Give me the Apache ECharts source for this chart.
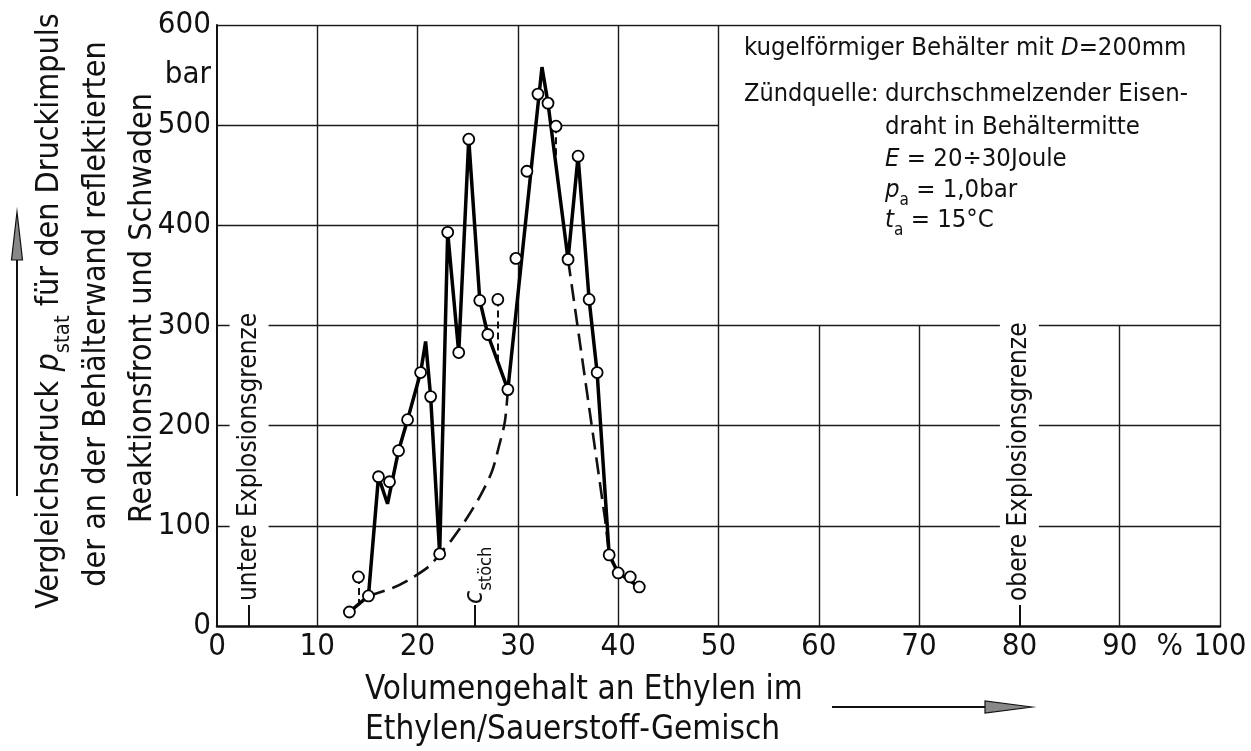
<!DOCTYPE html>
<html>
<head>
<meta charset="utf-8">
<script src="https://cdn.jsdelivr.net/npm/echarts@6/dist/echarts.min.js"></script>
<style>
  html, body { margin: 0; padding: 0; background: #fff; }
  #main { width: 1251px; height: 751px; }
</style>
</head>
<body>
<div id="main"></div>
<script>
const FONT = "'DejaVu Sans Condensed', 'DejaVu Sans', sans-serif"
const INK = '#111'

// Messpunkte (offene Kreise): [Vol-% Ethylen, bar]
const markers = [
  [13.2, 14], [14.1, 49], [15.1, 30], [16.1, 149], [17.2, 144], [18.1, 175],
  [19.0, 206], [20.3, 253], [21.3, 229], [22.2, 72], [23.0, 393], [24.1, 273],
  [25.1, 486], [26.2, 325], [27.0, 291], [28.0, 326], [29.0, 236], [29.8, 367],
  [30.9, 454], [32.0, 531], [33.0, 522], [33.8, 499], [35.0, 366], [36.0, 469],
  [37.1, 326], [37.9, 253], [39.1, 71], [40.0, 53], [41.2, 49], [42.1, 39]
]

// durchgezogene Kurve
const solidLine = [
  [13.2, 14], [15.1, 30], [16.1, 149], [17.0, 122], [18.1, 175], [19.0, 206],
  [20.3, 253], [20.8, 284], [21.3, 229], [22.2, 72], [23.0, 393], [24.1, 273],
  [25.1, 486], [26.2, 325], [27.0, 291], [29.0, 236], [32.4, 558], [33.0, 522],
  [35.0, 366], [36.0, 469], [37.1, 326], [37.9, 253], [39.1, 71], [40.0, 53],
  [42.1, 39]
]

// gestrichelte Kurven
const dashedLow = [
  [15.1, 30], [17.5, 38], [19.1, 46], [21.2, 60], [22.2, 72], [23.4, 86],
  [25.0, 109], [26.3, 131], [27.4, 154], [28.1, 179], [28.7, 204], [29.0, 236]
]
const dashedHigh = [[35.0, 366], [38.7, 106], [39.1, 71]]
const connectors = [
  [[14.1, 49], [14.1, 22]],
  [[28.0, 326], [28.0, 265]],
  [[33.8, 499], [33.8, 460]]
]

// Gitter: senkrecht [x, y0, y1], waagrecht [y, x0, x1]
const gridV = [[10, 0, 600], [20, 0, 600], [30, 0, 600], [40, 0, 600], [50, 0, 600],
  [60, 0, 300], [70, 0, 300], [90, 0, 300], [100, 0, 600]]
const gridH = [[100, 0, 100], [200, 0, 100], [300, 0, 100], [400, 0, 50], [500, 0, 50], [600, 0, 100]]

// Markierungen an der x-Achse
const limits = [
  { x: 3.2, text: 'untere Explosionsgrenze' },
  { x: 80, text: 'obere Explosionsgrenze' }
]
const cStoech = 25.7
const markTick = 21

const xUnit = '%'
const xUnitPos = 95
const yUnit = 'bar'
const yUnitPos = 550

const gridSegs = []
gridV.forEach(([x, a, b]) => gridSegs.push({ coords: [[x, a], [x, b]] }))
gridH.forEach(([y, a, b]) => gridSegs.push({ coords: [[a, y], [b, y]] }))
const tickSegs = limits.map(l => ({ coords: [[l.x, 0], [l.x, markTick]] }))
tickSegs.push({ coords: [[cStoech, 0], [cStoech, markTick]] })

const chart = echarts.init(document.getElementById('main'))

const option = {
  animation: false,
  backgroundColor: '#fff',
  grid: { left: 217, right: 31, top: 25, bottom: 125 },
  xAxis: {
    type: 'value', min: 0, max: 100, interval: 5,
    axisLine: { show: true, lineStyle: { color: INK, width: 2.5 } },
    axisTick: { show: false },
    splitLine: { show: false },
    axisLabel: {
      margin: 5, fontSize: 31, color: INK, fontFamily: FONT,
      formatter: v => v === xUnitPos ? xUnit : (v % 10 === 0 ? String(v) : '')
    }
  },
  yAxis: {
    type: 'value', min: 0, max: 600, interval: 50,
    axisLine: { show: true, lineStyle: { color: INK, width: 2 } },
    axisTick: { show: false },
    splitLine: { show: false },
    axisLabel: {
      margin: 6, fontSize: 31, color: INK, fontFamily: FONT,
      formatter: v => v === yUnitPos ? yUnit : (v % 100 === 0 ? String(v) : '')
    }
  },
  series: [
    {
      type: 'lines', coordinateSystem: 'cartesian2d', silent: true, z: 1,
      lineStyle: { color: '#1a1a1a', width: 1.4, opacity: 1 },
      data: gridSegs
    },
    {
      type: 'lines', coordinateSystem: 'cartesian2d', silent: true, z: 2,
      lineStyle: { color: INK, width: 2, opacity: 1 },
      data: tickSegs
    },
    {
      type: 'line', data: dashedLow, showSymbol: false, smooth: 0.3, z: 3,
      lineStyle: { color: INK, width: 2.6, type: [17, 8] }
    },
    {
      type: 'line', data: dashedHigh, showSymbol: false, z: 3,
      lineStyle: { color: INK, width: 2.6, type: [17, 8] }
    },
    {
      type: 'lines', coordinateSystem: 'cartesian2d', silent: true, z: 3,
      lineStyle: { color: INK, width: 2, type: [7, 4], opacity: 1 },
      data: connectors.map(c => ({ coords: c }))
    },
    {
      type: 'line', data: solidLine, showSymbol: false, z: 4,
      lineStyle: { color: '#000', width: 3.5 }
    },
    {
      type: 'scatter', data: markers, symbol: 'circle', symbolSize: 11, z: 5,
      itemStyle: { color: '#fff', borderColor: '#000', borderWidth: 1.8, opacity: 1 }
    }
  ]
}
chart.setOption(option)

// Texte
const rich = size => ({
  n: { fontSize: size, fontFamily: FONT, lineHeight: size * 1.5, fill: INK },
  i: { fontSize: size, fontFamily: FONT, fontStyle: 'italic', lineHeight: size * 1.5, fill: INK },
  s: { fontSize: Math.round(size * 0.68), fontFamily: FONT, verticalAlign: 'bottom', lineHeight: size * 0.68, fill: INK }
})
const txt = (x, y, text, size, extra = {}) => ({
  type: 'text', x, y, z: 50, rotation: extra.rotation || 0,
  style: Object.assign({
    text, fontSize: size, fontFamily: FONT, fill: INK,
    align: 'left', verticalAlign: 'middle', rich: rich(size)
  }, extra.style || {})
})

const graphics = []
// y-Achsentitel
const vt = { rotation: Math.PI / 2, style: { align: 'center' } }
graphics.push(txt(50, 311, '{n|Vergleichsdruck }{i|p}{s|stat}{n| für den Druckimpuls}', 32, vt))
graphics.push(txt(97, 314, '{n|der an der Behälterwand reflektierten}', 32, vt))
graphics.push(txt(143, 308, '{n|Reaktionsfront und Schwaden}', 32, vt))
graphics.push({ type: 'line', shape: { x1: 17, y1: 496, x2: 17, y2: 250 }, style: { stroke: INK, lineWidth: 2 } })
graphics.push({ type: 'polygon', shape: { points: [[17, 212], [11.5, 260], [22.5, 260]] }, style: { fill: '#888', stroke: INK, lineWidth: 1.2 } })
// x-Achsentitel
graphics.push(txt(365, 690, '{n|Volumengehalt an Ethylen im}', 33))
graphics.push(txt(365, 730, '{n|Ethylen/Sauerstoff-Gemisch}', 33))
graphics.push({ type: 'line', shape: { x1: 832, y1: 707, x2: 990, y2: 707 }, style: { stroke: INK, lineWidth: 2 } })
graphics.push({ type: 'polygon', shape: { points: [[1032, 707], [985, 701], [985, 713]] }, style: { fill: '#888', stroke: INK, lineWidth: 1.2 } })
// Kasten
graphics.push(txt(744, 48, '{n|kugelförmiger Behälter mit }{i|D}{n|=200mm}', 25.5))
graphics.push(txt(744, 94, '{n|Zündquelle:}', 25))
graphics.push(txt(885, 94, '{n|durchschmelzender Eisen-}', 25.5))
graphics.push(txt(885, 127, '{n|draht in Behältermitte}', 25.5))
graphics.push(txt(885, 159, '{i|E}{n| = 20÷30Joule}', 25.5))
graphics.push(txt(885, 190, '{i|p}{s|a}{n| = 1,0bar}', 25.5))
graphics.push(txt(885, 220, '{i|t}{s|a}{n| = 15°C}', 25.5))

// Explosionsgrenzen und c_stöch an der x-Achse
limits.forEach(l => {
  const p = chart.convertToPixel({ gridIndex: 0 }, [l.x, markTick])
  graphics.push(txt(p[0], p[1] - 1, '{n|' + l.text + '}', 26, {
    rotation: Math.PI / 2,
    style: { backgroundColor: '#fff', padding: [0, 3, 0, 3] }
  }))
})
{
  const p = chart.convertToPixel({ gridIndex: 0 }, [cStoech, markTick])
  graphics.push(txt(p[0], p[1] - 1, '{i|c}{s|stöch}', 27, { rotation: Math.PI / 2 }))
}
chart.setOption({ graphic: graphics })
</script>
</body>
</html>
